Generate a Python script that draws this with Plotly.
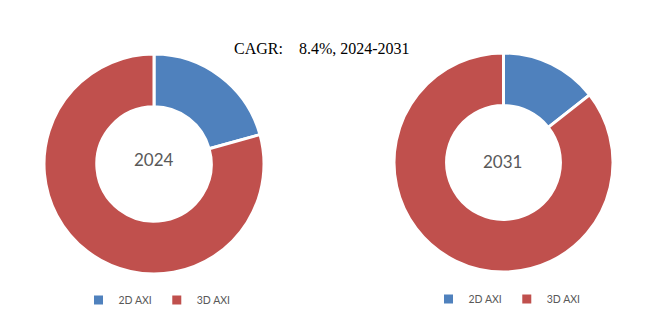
import plotly.graph_objects as go

labels = ["2D AXI", "3D AXI"]
values_2024 = [20.7, 79.3]
values_2031 = [14.4, 85.6]
years = ["2024", "2031"]
title_text = "CAGR:\u00a0\u00a0\u00a0\u00a08.4%, 2024-2031"
colors = ["#4F81BD", "#C0504D"]

W, H = 658, 322
fig = go.Figure()
fig.add_trace(go.Pie(
    labels=labels, values=values_2024, hole=0.52, sort=False, direction="clockwise",
    rotation=0, textinfo="none", hoverinfo="label+percent",
    marker=dict(colors=colors, line=dict(color="white", width=3)),
    domain=dict(x=[44/W, 264/W], y=[1-275/H, 1-53/H]), legend="legend", legendgroup="a",
))
fig.add_trace(go.Pie(
    labels=labels, values=values_2031, hole=0.52, sort=False, direction="clockwise",
    rotation=0, textinfo="none", hoverinfo="label+percent",
    marker=dict(colors=colors, line=dict(color="white", width=3)),
    domain=dict(x=[394/W, 613/W], y=[1-273/H, 1-52/H]), legend="legend2", legendgroup="b",
))

legend_font = dict(family="Lato, Open Sans, sans-serif", size=10.5, color="#595959")
fig.update_layout(
    width=W, height=H, margin=dict(l=0, r=0, t=0, b=0),
    paper_bgcolor="white", plot_bgcolor="white",
    legend=dict(orientation="h", x=157/W, y=1-300/H, xanchor="center", yanchor="middle",
                traceorder="normal", font=legend_font, itemwidth=30, bgcolor="rgba(0,0,0,0)"),
    legend2=dict(orientation="h", x=507/W, y=1-299/H, xanchor="center", yanchor="middle",
                 traceorder="normal", font=legend_font, itemwidth=30, bgcolor="rgba(0,0,0,0)"),
    annotations=[
        dict(text=title_text, x=322/W, y=1-38/H, xref="paper", yref="paper", xanchor="center",
             showarrow=False, font=dict(family="Liberation Serif, serif", size=16, color="#000000")),
        dict(text=years[0], x=154/W, y=1-159/H, xref="paper", yref="paper", xanchor="center",
             showarrow=False, font=dict(family="Lato, Open Sans, sans-serif", size=17, color="#595959")),
        dict(text=years[1], x=503/W, y=1-161/H, xref="paper", yref="paper", xanchor="center",
             showarrow=False, font=dict(family="Lato, Open Sans, sans-serif", size=17, color="#595959")),
    ],
)
fig.write_html("out.html")
